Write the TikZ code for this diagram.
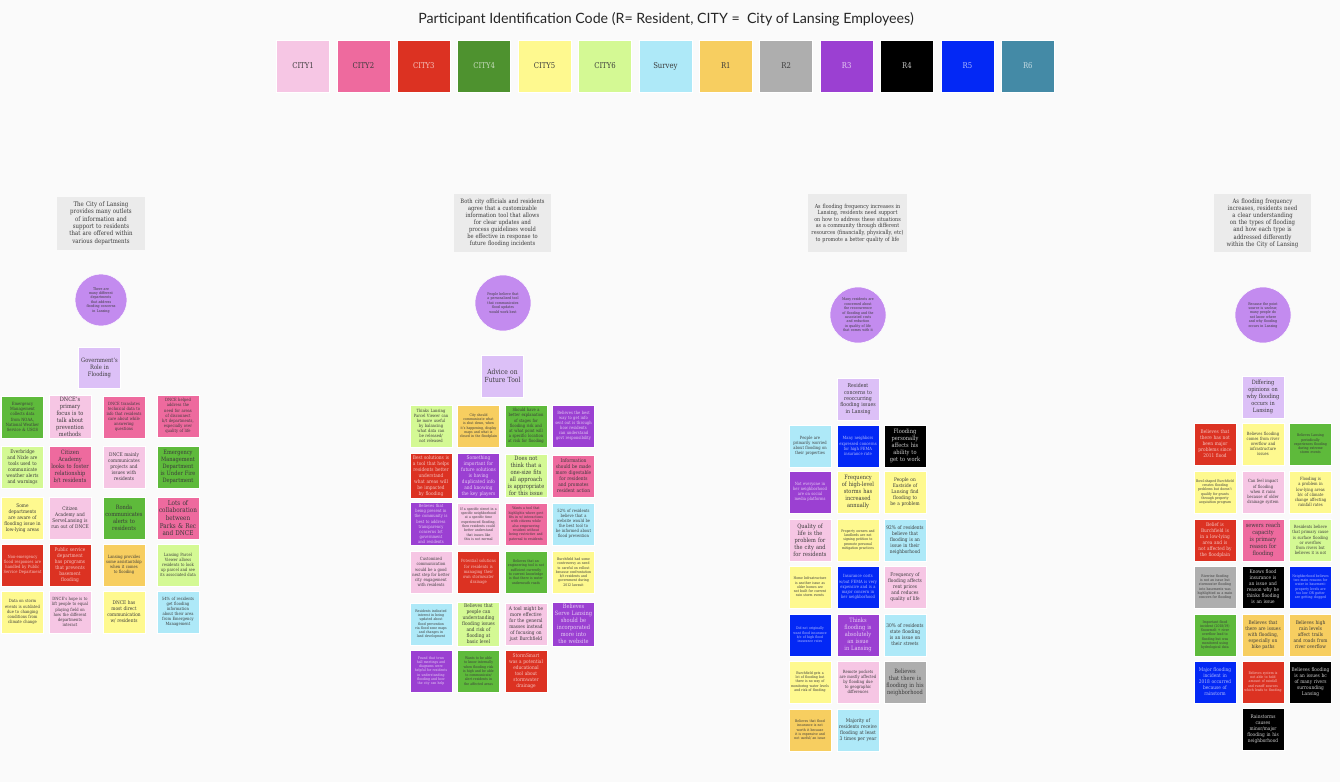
\documentclass[tikz,border=0pt]{standalone}
\usepackage{fontspec}
\setmainfont{DejaVu Serif}[FakeStretch=0.86]
\newfontfamily\titlefont{Lato}
\usepackage{xcolor}
\usetikzlibrary{positioning}
\hyphenpenalty=10000

\definecolor{paper}{HTML}{FAFAFA}
\definecolor{ink}{HTML}{3A3A3A}
\definecolor{themegray}{HTML}{EBEBEB}
\definecolor{insight}{HTML}{C38BEF}
\definecolor{groupcol}{HTML}{DCC0F7}
\definecolor{cityone}{HTML}{F6C6E4}
\definecolor{citytwo}{HTML}{EE6A9E}
\definecolor{citythree}{HTML}{DC3222}
\definecolor{cityfour}{HTML}{4E922F}
\definecolor{notegreen}{HTML}{5EBA3B}
\definecolor{cityfive}{HTML}{FEF98F}
\definecolor{citysix}{HTML}{D4F994}
\definecolor{survey}{HTML}{AEE9F8}
\definecolor{rone}{HTML}{F7CE60}
\definecolor{rtwo}{HTML}{AEAEAE}
\definecolor{rthree}{HTML}{9B40D2}
\definecolor{rfour}{HTML}{000000}
\definecolor{rfive}{HTML}{0328F5}
\definecolor{rsix}{HTML}{448AA6}

\begin{document}
\begin{tikzpicture}[x=1pt, y=-1pt, every node/.style={text=ink},
  note/.style={draw=white, line width=0.5pt, minimum size=42pt, text width=38pt, inner sep=2pt, align=center},
  sa/.style={font=\fontsize{3.6}{4.3}\selectfont},
  sb/.style={font=\fontsize{4.3}{5.1}\selectfont},
  sc/.style={font=\fontsize{5}{6}\selectfont},
  sd/.style={font=\fontsize{5.9}{7}\selectfont},
  se/.style={font=\fontsize{6.6}{7.7}\selectfont},
  cOne/.style={fill=cityone},
  cTwo/.style={fill=citytwo},
  cThree/.style={fill=citythree, text=white!72!citythree},
  cFour/.style={fill=notegreen},
  cFive/.style={fill=cityfive},
  cSix/.style={fill=citysix},
  sv/.style={fill=survey},
  rOne/.style={fill=rone},
  rTwo/.style={fill=rtwo},
  rThree/.style={fill=rthree, text=white!75!rthree},
  rFour/.style={fill=rfour, text=white!82!black},
  rFive/.style={fill=rfive, text=white!70!rfive},
  theme/.style={fill=themegray, inner sep=3pt, align=center, font=\fontsize{6.3}{7.4}\selectfont},
  insightdot/.style={circle, fill=insight, draw=white, line width=0.5pt, inner sep=0pt, text width=32pt, align=center, font=\fontsize{3.7}{4.4}\selectfont},
  group/.style={fill=groupcol, draw=white, line width=0.5pt, minimum size=42pt, text width=38pt, inner sep=2pt, align=center}]
  % page
  \fill[paper] (0,0) rectangle (1340,782);
  \useasboundingbox (0,0) rectangle (1340,782);

  % Title and colour code
  \node[font=\titlefont\fontsize{14.2}{16}\selectfont, text=black!85] (title) at (666,19) {Participant Identification Code (R= Resident, CITY =\ \ City of Lansing Employees)};
  \foreach \lname/\lcol/\ltxt [count=\i from 0] in {
    CITY1/cityone/ink, CITY2/citytwo/ink, CITY3/citythree/white!72!citythree,
    CITY4/cityfour/white!70!cityfour, CITY5/cityfive/ink, CITY6/citysix/ink,
    Survey/survey/ink, R1/rone/ink, R2/rtwo/ink, R3/rthree/white!75!rthree,
    R4/rfour/white!78!black, R5/rfive/white!70!rfive, R6/rsix/white!70!rsix} {
    \node[fill=\lcol, text=\ltxt, draw=white, line width=0.5pt, minimum width=53pt, minimum height=52pt,
      font=\fontsize{8}{9}\selectfont] (leg\i) at (303+60.4*\i,66) {\lname};
  }

  % Cluster 1: outlets of information
  \node[theme, minimum width=88pt, minimum height=53pt, text width=74pt] (themeA) at (101,223) {The City of Lansing provides many outlets of information and support to residents that are offered within various departments};
  \node[insightdot, minimum size=52pt, text width=30pt] (dotA) at (101,300) {There are many different departments that address flooding concerns in Lansing};
  \node[group, font=\fontsize{6}{7}\selectfont, minimum size=41pt] (grpA) at (99.5,368) {Government's Role in Flooding};

  \node[note, cFour, sb]  (a11) at (22.5,417) {Emergency Management collects data from NOAA, National Weather Service \& USGS};
  \node[note, cOne, sd]   (a12) at (70,417)   {DNCE's primary focus is to talk about prevention methods};
  \node[note, cTwo, sb]   (a13) at (124,417)  {DNCE translates technical data to info that residents care about while answering questions};
  \node[note, cTwo, sb]   (a14) at (178,416)  {DNCE helped address the need for areas of disconnect b/t departments, especially over quality of life};
  \node[note, cSix, sc]   (a21) at (22.5,467) {Everbridge and Nixle are tools used to communicate weather alerts and warnings};
  \node[note, cTwo, sd]   (a22) at (70,467)   {Citizen Academy looks to foster relationship b/t residents};
  \node[note, cOne, sc]   (a23) at (124,467)  {DNCE mainly communicates projects and issues with residents};
  \node[note, cFour, sd]  (a24) at (178,467)  {Emergency Management Department is Under Fire Department};
  \node[note, cFive, sc]  (a31) at (22.5,518) {Some departments are aware of flooding issue in low-lying areas};
  \node[note, cOne, sc]   (a32) at (70,518)   {Citizen Academy and ServeLansing is run out of DNCE};
  \node[note, cFour, sd]  (a33) at (124,518)  {Ronda communicates alerts to residents};
  \node[note, cTwo, se]   (a34) at (178,518)  {Lots of collaboration between Parks \& Rec and DNCE};
  \node[note, cThree, sb] (a41) at (22.5,565) {Non-emergency flood responses are handled by Public Service Department};
  \node[note, cThree, sc] (a42) at (70,565)   {Public service department has programs that prevents basement flooding};
  \node[note, rOne, sb]   (a43) at (124,565)  {Lansing provides some assistantship when it comes to flooding};
  \node[note, cSix, sb]   (a44) at (178,565)  {Lansing Parcel Viewer allows residents to look up parcel and see its associated data};
  \node[note, cFive, sb]  (a51) at (22.5,612) {Data on storm events is outdated due to changing conditions from climate change};
  \node[note, cOne, sb]   (a52) at (70,612)   {DNCE's hope is to lift people to equal playing field on how the different departments interact};
  \node[note, cFive, sc]  (a53) at (124,612)  {DNCE has most direct communication w/ residents};
  \node[note, sv, sb]     (a54) at (178,612)  {54\% of residents get flooding information about their area from Emergency Management};

  % Cluster 2: future tool
  \node[theme, minimum width=97pt, minimum height=58pt, text width=88pt, font=\fontsize{6}{7}\selectfont] (themeB) at (502.5,223) {Both city officials and residents agree that a customizable information tool that allows for clear updates and process guidelines would be effective in response to future flooding incidents};
  \node[insightdot, minimum size=56pt] (dotB) at (503,303) {People believe that a personalized tool that communicates flood updates would work best};
  \node[group, font=\fontsize{7}{8}\selectfont] (grpB) at (502.5,376) {Advice on Future Tool};

  \node[note, cSix, sb]    (b11) at (431,426)   {Thinks Lansing Parcel Viewer can be more useful by balancing what data can be released/ not released};
  \node[note, rOne, sa]    (b12) at (478.5,426) {City should communicate what is shut down, when it's happening, display maps and what is closed in the floodplain};
  \node[note, cFour, sb]   (b13) at (526,426)   {Should have a better explanation of stages for flooding risk and at what point will a specific location at risk for flooding};
  \node[note, rThree, sb]  (b14) at (573.5,426) {Believes the best way to get info sent out is through how residents can understand govt responsibility};
  \node[note, cThree, sc]  (b21) at (431,476)   {Best solutions is a tool that helps residents better understand what areas will be impacted by flooding};
  \node[note, rThree, sc]  (b22) at (478.5,476) {Something important for future solutions is having duplicated info and knowing the key players};
  \node[note, cSix, sd]    (b23) at (526,476)   {Does not think that a one-size fits all approach is appropriate for this issue};
  \node[note, cTwo, sc]    (b24) at (573.5,476) {Information should be made more digestable for residents and promotes resident action};
  \node[note, rThree, sb]  (b31) at (431,524)   {Believes that being present in the community is best to address transparency concerns b/t government and residents};
  \node[note, cOne, sa]    (b32) at (478.5,524) {If a specific street in a specific neighborhood at a specific time experienced flooding, then residents could better understand that issues like this is not normal};
  \node[note, cTwo, sa]    (b33) at (526,524)   {Wants a tool that highlights where govt fits in w/ interactions with citizens while also empowering resident without being restrictive and paternal to residents};
  \node[note, sv, sb]      (b34) at (573.5,524) {52\% of residents believe that a website would be the best tool to be informed about flood prevention};
  \node[note, cOne, sb]    (b41) at (431,572)   {Customized communication would be a good next step for better city engagement with residents};
  \node[note, cThree, sb]  (b42) at (478.5,572) {Potential solutions for residents is managing their own stormwater drainage};
  \node[note, cFour, sa]   (b43) at (526,572)   {Believes that an engineering tool is not sufficient currently to current knowledge is that there is water underneath roads};
  \node[note, cFive, sa]   (b44) at (573.5,572) {Burchfield had some controversy as need to careful on rollout because confrontation b/t residents and government during 2012 lawsuit};
  \node[note, sv, sa]      (b51) at (431,624)   {Residents indicated interest in being updated about flood prevention via flood zone maps and changes in land development};
  \node[note, cSix, sc]    (b52) at (478.5,624) {Believes that people can understanding flooding issues and risk of flooding at basic level};
  \node[note, cOne, sc]    (b53) at (526,624)   {A tool might be more effective for the general masses instead of focusing on just Burchfield};
  \node[note, rThree, sd]  (b54) at (573.5,624) {Believes Serve Lansing should be incorporated more into the website};
  \node[note, rThree, sa]  (b61) at (431,671)   {Found that town hall meetings and diagrams were helpful for residents in understanding flooding and how the city can help};
  \node[note, cFour, sa]   (b62) at (478.5,671) {Wants to be able to know internally when flooding risk is high and be able to communicate/ alert residents in the affected areas};
  \node[note, cThree, sc]  (b63) at (526,671)   {StormSmart was a potential educational tool about stormwater drainage};

  % Cluster 3: resident concerns
  \node[theme, minimum width=97pt, minimum height=58pt, text width=93pt, font=\fontsize{5.6}{6.6}\selectfont] (themeC) at (857.5,223) {As flooding frequency increases in Lansing, residents need support on how to address these situations as a community through different resources (financially, physically, etc) to promote a better quality of life};
  \node[insightdot, minimum size=56pt] (dotC) at (858,315) {Many residents are concerned about the reoccurrence of flooding and the associated costs and reduction in quality of life that comes with it};
  \node[group, font=\fontsize{5.4}{6.4}\selectfont] (grpC) at (858,399) {Resident concerns to reoccurring flooding issues in Lansing};

  \node[note, sv, sb]      (c11) at (810,446) {People are primarily worried about flooding on their properties};
  \node[note, rFive, sb]   (c12) at (858,446) {Many neighbors expressed concerns for high FEMA insurance rate};
  \node[note, rFour, sd]   (c13) at (905,446) {Flooding personally affects his ability to get to work};
  \node[note, rThree, sb]  (c21) at (810,492) {Not everyone in her neighborhood are on social media platforms};
  \node[note, cFive, sd]   (c22) at (858,492) {Frequency of high-level storms has increased annually};
  \node[note, cFive, sc]   (c23) at (905,492) {People on Eastside of Lansing find flooding to be a problem};
  \node[note, cOne, sd]    (c31) at (810,540) {Quality of life is the problem for the city and for residents};
  \node[note, cFive, sa]   (c32) at (858,540) {Property owners and landlords are not signing petition to promote personal mitigation practices};
  \node[note, sv, sc]      (c33) at (905,540) {92\% of residents believe that flooding is an issue in their neighborhood};
  \node[note, cFive, sa]   (c41) at (810,587) {Home Infrastructure is another issue as older homes are not built for current rain storm events};
  \node[note, rFive, sb]   (c42) at (858,587) {Insurance costs w/out FEMA is very expensive and is a major concern in her neighborhood};
  \node[note, cOne, sc]    (c43) at (905,587) {Frequency of flooding affects rent prices and reduces quality of life};
  \node[note, rFive, sa]   (c51) at (810,635) {Did not originally want flood insurance b/c of high flood insurance rates};
  \node[note, rThree, sd]  (c52) at (858,635) {Thinks flooding is absolutely an issue in Lansing};
  \node[note, sv, sc]      (c53) at (905,635) {30\% of residents state flooding is an issue on their streets};
  \node[note, cFive, sa]   (c61) at (810,682) {Burchfield gets a lot of flooding but there is no way of monitoring water levels and risk of flooding};
  \node[note, cOne, sb]    (c62) at (858,682) {Remote pockets are mostly affected by flooding due to geographic differences};
  \node[note, rTwo, sd]    (c63) at (905,682) {Believes that there is flooding in his neighborhood};
  \node[note, rOne, sa]    (c71) at (810,730) {Believes that flood insurance is not worth it because it is expensive and not useful/ an issue};
  \node[note, sv, sc]      (c72) at (858,730) {Majority of residents receive flooding at least 3 times per year};

  % Cluster 4: types of flooding
  \node[theme, minimum width=97pt, minimum height=58pt, text width=84pt, font=\fontsize{6.2}{7.2}\selectfont] (themeD) at (1262.5,223) {As flooding frequency increases, residents need a clear understanding on the types of flooding and how each type is addressed differently within the City of Lansing};
  \node[insightdot, minimum size=56pt] (dotD) at (1263,315) {Because the point source is unclear, many people do not know where and why flooding occurs in Lansing};
  \node[group, font=\fontsize{5.8}{6.8}\selectfont] (grpD) at (1263,397) {Differing opinions on why flooding occurs in Lansing};

  \node[note, cThree, sc]  (d11) at (1215,444)   {Believes that there has not been major problems since 2011 flood};
  \node[note, cFive, sb]   (d12) at (1263,444)   {Believes flooding comes from river overflow and infrastructure issues};
  \node[note, cFour, sa]   (d13) at (1310.5,444) {Believes Lansing periodically experiences flooding during extreme storm events};
  \node[note, cFive, sa]   (d21) at (1215,492)   {Bowl-shaped Burchfield creates flooding problems but doesn't qualify for grants through property acquisition program};
  \node[note, cOne, sb]    (d22) at (1263,492)   {Can feel impact of flooding when it rains because of older drainage system};
  \node[note, cFive, sb]   (d23) at (1310.5,492) {Flooding is a problem in low-lying areas b/c of climate change affecting rainfall rates};
  \node[note, cThree, sc]  (d31) at (1215,540)   {Belief is Burchfield is in a low-lying area and is not affected by the floodplain};
  \node[note, cTwo, sd]    (d32) at (1263,540)   {sewers reach capacity is primary reason for flooding};
  \node[note, cSix, sb]    (d33) at (1310.5,540) {Residents believe that primary cause is surface flooding or overflow from rivers but believes it is not};
  \node[note, rTwo, sa]    (d41) at (1215,587)   {Riverine flooding is not an issue but stormwater flooding into basements was highlighted as a main concern for flooding};
  \node[note, rFour, sc]   (d42) at (1263,587)   {Knows flood insurance is an issue and reason why he thinks flooding is an issue};
  \node[note, rFive, sa]   (d43) at (1310.5,587) {Neighborhood believes two main reasons for water in basement: property levels are too low OR gutter are getting clogged};
  \node[note, cFour, sa]   (d51) at (1215,635)   {Important flood incident (2018/19) Snowmelt + river overflow lead to flooding but was monitored using hydrological data};
  \node[note, rOne, sc]    (d52) at (1263,635)   {Believes that there are issues with flooding, especially on bike paths};
  \node[note, rOne, sc]    (d53) at (1310.5,635) {Believes high rain levels affect trails and roads from river overflow};
  \node[note, rFive, sc]   (d61) at (1215,682)   {Major flooding incident in 2018 occurred because of rainstorm};
  \node[note, cThree, sa]  (d62) at (1263,682)   {Believes system is not able to hold amount of rainfall and runoff sources which leads to flooding};
  \node[note, rFour, sc]   (d63) at (1310.5,682) {Believes flooding is an issues bc of many rivers surrounding Lansing};
  \node[note, rFour, sc]   (d72) at (1263,729)   {Rainstorms causes minor/major flooding in his neighborhood};
\end{tikzpicture}
\end{document}
